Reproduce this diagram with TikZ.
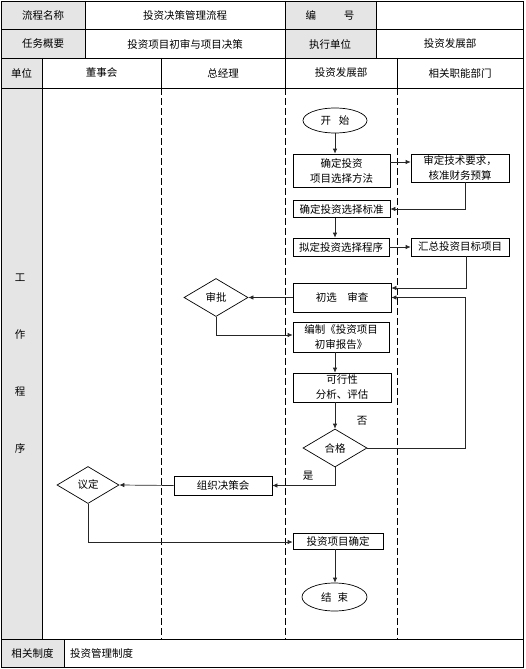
\documentclass[tikz,border=0pt]{standalone}
\usepackage{fontspec}
\setmainfont{Noto Sans CJK SC}
\usetikzlibrary{shapes.geometric,arrows.meta}
\begin{document}
\begin{tikzpicture}[x=1pt,y=-1pt,
  every node/.style={font=\fontsize{10.5}{13}\selectfont,inner sep=0pt},
  grid/.style={line width=0.8pt,black},
  lane/.style={line width=0.8pt,black,dash pattern=on 7pt off 3pt},
  cellfill/.style={fill=black!10,draw=none},
  stepbox/.style={draw,line width=0.7pt,inner sep=0pt,align=center,font=\fontsize{10.5}{15}\selectfont},
  termnode/.style={draw,ellipse,line width=0.7pt,inner sep=0pt,minimum width=64pt,minimum height=25pt},
  decision/.style={draw,diamond,aspect=1.7,line width=0.7pt,inner sep=0pt,minimum width=64pt,minimum height=38pt},
  flow/.style={line width=0.7pt,black!85,-{Latex[length=5pt,width=4.5pt]}},
  lbl/.style={font=\fontsize{10.5}{13}\selectfont}
]
\useasboundingbox (0,0) rectangle (525,669);
% gray cells
\fill[cellfill] (1,1) rectangle (85,58);
\fill[cellfill] (285,1) rectangle (376,58);
\fill[cellfill] (1,58) rectangle (42,639);
\fill[cellfill] (1,639) rectangle (64,667);
% grid
\draw[grid] (1,1) rectangle (523,667);
\draw[grid] (1,29.5) -- (523,29.5);
\draw[grid] (1,58) -- (523,58);
\draw[grid] (1,88) -- (523,88);
\draw[grid] (1,639) -- (523,639);
\draw[grid] (85,1) -- (85,58);
\draw[grid] (285,1) -- (285,88);
\draw[grid] (376,1) -- (376,58);
\draw[grid] (42,58) -- (42,639);
\draw[grid] (161,58) -- (161,88);
\draw[grid] (397,58) -- (397,88);
\draw[grid] (64,639) -- (64,667);
\draw[lane] (161,88) -- (161,639);
\draw[lane] (285,88) -- (285,639);
\draw[lane] (397,88) -- (397,639);
% header texts
\node (h1) at (43,15) {流程名称};
\node (h2) at (185,15) {投资决策管理流程};
\node (h3) at (330,15) {编\hspace{28pt}号};
\node (h4) at (43,44) {任务概要};
\node (h5) at (185,44) {投资项目初审与项目决策};
\node (h6) at (330,44) {执行单位};
\node (h7) at (450,44) {投资发展部};
\node (c1) at (21.5,73) {单位};
\node (c2) at (101.5,73) {董事会};
\node (c3) at (223,73) {总经理};
\node (c4) at (341,73) {投资发展部};
\node (c5) at (460,73) {相关职能部门};
\node (v1) at (20,278) {工};
\node (v2) at (20,335) {作};
\node (v3) at (20,392) {程};
\node (v4) at (20,448) {序};
\node (f1) at (32.5,653) {相关制度};
\node[anchor=west] (f2) at (70,653) {投资管理制度};
% flow nodes
\node[termnode] (start) at (335,120.5) {开\hspace{8pt}始};
\node[stepbox,minimum width=97pt,minimum height=33pt] (b1) at (341.5,170.5) {确定投资\\项目选择方法};
\node[stepbox,minimum width=98pt,minimum height=28pt] (b2) at (460,168) {审定技术要求，\\核准财务预算};
\node[stepbox,minimum width=97pt,minimum height=17pt] (b3) at (341.5,209) {确定投资选择标准};
\node[stepbox,minimum width=96pt,minimum height=18pt] (b4) at (341,247) {拟定投资选择程序};
\node[stepbox,minimum width=98pt,minimum height=18pt] (b5) at (460,247) {汇总投资目标项目};
\node[stepbox,minimum width=98pt,minimum height=29pt] (b6) at (342,297.5) {初选\hspace{1em}审查};
\node[decision] (sp) at (216,297.5) {审批};
\node[stepbox,minimum width=96pt,minimum height=30pt] (b7) at (341,337) {编制《投资项目\\初审报告》};
\node[stepbox,minimum width=98pt,minimum height=29pt] (b8) at (342,387.5) {可行性\\分析、评估};
\node[decision] (hg) at (335,448) {合格};
\node[lbl] (no) at (362,421) {否};
\node[lbl] (yes) at (308,476) {是};
\node[stepbox,minimum width=98pt,minimum height=19pt] (zz) at (223,485.5) {组织决策会};
\node[decision,minimum width=62pt,minimum height=37pt] (yd) at (88,485) {议定};
\node[stepbox,minimum width=90pt,minimum height=16pt] (b9) at (338,541) {投资项目确定};
\node[termnode,minimum width=65pt,minimum height=28pt] (end) at (334.5,597) {结\hspace{6pt}束};
% connectors
\draw[flow] (start.south) -- (start.south |- b1.north);
\draw[flow] (b1.east |- 0,162) -- (b2.west |- 0,162);
\draw[flow] ([xshift=5pt]b2.south) |- (b3.east);
\draw[flow] (b3.south -| start) -- (b4.north -| start);
\draw[flow] (b4) -- (b5);
\draw[flow] ([xshift=6pt]b5.south) |- ([yshift=9.5pt]b6.east);
\draw[flow] (hg.east) -| ([xshift=74pt]b6.east) -- (b6.east);
\draw[flow] (b6.west) -- (sp.east);
\draw[flow] (sp.south) |- ([yshift=2pt]b7.west);
\draw[flow] (b7.south -| start) -- (b8.north -| start);
\draw[flow] (b8.south -| hg) -- (hg.north);
\draw[flow] (hg.south) |- (zz.east);
\draw[flow] (zz.west) -- (yd.east);
\draw[flow] (yd.south) |- ([yshift=-1pt]b9.west);
\draw[flow] (b9.south -| hg) -- (end.north -| hg);
\end{tikzpicture}
\end{document}
